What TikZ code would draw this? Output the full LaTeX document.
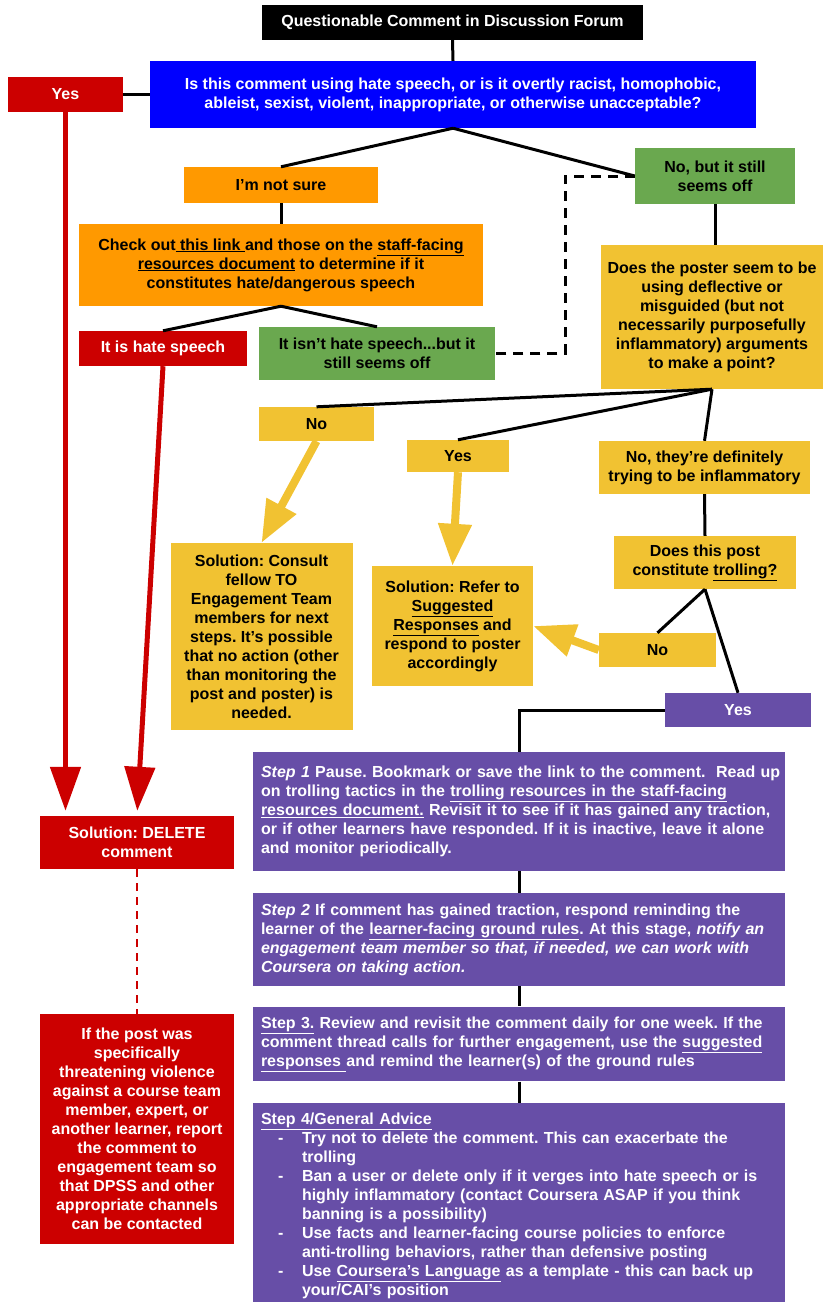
\documentclass[tikz,border=0pt]{standalone}
\usepackage{fontspec}
\setmainfont{Liberation Sans}
\usetikzlibrary{arrows.meta}
\definecolor{cblue}{HTML}{0000FF}
\definecolor{cred}{HTML}{CC0000}
\definecolor{corange}{HTML}{FF9900}
\definecolor{cgreen}{HTML}{6AA84F}
\definecolor{cyellow}{HTML}{F1C232}
\definecolor{cpurple}{HTML}{674EA7}
\newcommand{\stepbullet}{\makebox[41pt][l]{\hspace*{17pt}-}}
\newcommand{\stepindent}{\hspace*{41pt}}
\frenchspacing
\tikzset{
  box/.style={inner xsep=3pt, inner ysep=2pt, align=center, font=\bfseries\fontsize{16}{19}\selectfont},
  darkbox/.style={box, fill=#1, text=white},
  lightbox/.style={box, fill=#1, text=black},
  stepbox/.style={box, fill=cpurple, text=white, align=left, text width=516pt, inner xsep=8pt, inner ysep=10pt},
  conn/.style={line width=3pt},
  rarrow/.style={draw=cred, line width=5pt, shorten >=5pt, -{Triangle[width=30pt,length=44pt]}},
  yarrow/.style={draw=cyellow, line width=8pt, -{Triangle[width=32pt,length=42pt]}},
}
\begin{document}
\begin{tikzpicture}[x=1pt,y=-1pt]
\useasboundingbox (0,0) rectangle (823,1302);
\node[darkbox=black, minimum width=381, minimum height=35] (title) at (452.5,22.5) {Questionable Comment in Discussion Forum};
\node[darkbox=cblue, minimum width=606, minimum height=67] (q1) at (453,94.5) {Is this comment using hate speech, or is it overtly racist, homophobic,\\ableist, sexist, violent, inappropriate, or otherwise unacceptable?};
\node[darkbox=cred, minimum width=115, minimum height=35] (yes1) at (65.5,94.5) {Yes};
\node[lightbox=corange, minimum width=194, minimum height=36] (notsure) at (281,185) {I’m not sure};
\node[lightbox=cgreen, minimum width=160, minimum height=56] (nobut) at (715,176) {No, but it still\\seems off};
\node[lightbox=corange, minimum width=404, minimum height=82] (check) at (281,265) {Check out\underline{ this link }and those on the \underline{staff-facing}\\\underline{resources document} to determine if it\\constitutes hate/dangerous speech};
\node[darkbox=cred, minimum width=168, minimum height=35] (ishate) at (163,348.5) {It is hate speech};
\node[lightbox=cgreen, minimum width=236, minimum height=53] (isnt) at (377,353.5) {It isn’t hate speech...but it\\still seems off};
\node[lightbox=cyellow, minimum width=222, minimum height=144] (poster) at (712,317) {Does the poster seem to be\\using deflective or\\misguided (but not\\necessarily purposefully\\inflammatory) arguments\\to make a point?};
\node[lightbox=cyellow, minimum width=115, minimum height=34] (no1) at (316.5,424) {No};
\node[lightbox=cyellow, minimum width=102, minimum height=32] (yes2) at (458,456) {Yes};
\node[lightbox=cyellow, minimum width=211, minimum height=53] (notrying) at (704.5,467.5) {No, they’re definitely\\trying to be inflammatory};
\node[lightbox=cyellow, minimum width=182, minimum height=187] (consult) at (261.5,636.5) {Solution: Consult\\fellow TO\\Engagement Team\\members for next\\steps. It’s possible\\that no action (other\\than monitoring the\\post and poster) is\\needed.};
\node[lightbox=cyellow, minimum width=161, minimum height=120] (refer) at (452.5,626) {Solution: Refer to\\\underline{Suggested}\\\underline{Responses} and\\respond to poster\\accordingly};
\node[lightbox=cyellow, minimum width=182, minimum height=53] (trolling) at (705,562.5) {Does this post\\constitute \underline{trolling?}};
\node[lightbox=cyellow, minimum width=117, minimum height=34] (no3) at (657.5,650) {No};
\node[darkbox=cpurple, minimum width=146, minimum height=34] (yes3) at (738,710) {Yes};
\node[stepbox, minimum height=119] (step1) at (519,811.5) {\mbox{\textit{Step 1} Pause. Bookmark or save the link to the comment.\ \ Read up}\\on trolling tactics in the \underline{trolling resources in the staff-facing}\\\underline{resources document.} Revisit it to see if it has gained any traction,\\or if other learners have responded. If it is inactive, leave it alone\\and monitor periodically.};
\node[stepbox, minimum height=93] (step2) at (519,939.5) {\textit{Step 2} If comment has gained traction, respond reminding the\\learner of the \underline{learner-facing ground rules}. At this stage, \textit{notify an}\\\textit{engagement team member so that, if needed, we can work with}\\\textit{Coursera on taking action.}};
\node[stepbox, minimum height=66] (step3) at (519,1044) {\underline{Step 3.} Review and revisit the comment daily for one week. If the\\comment thread calls for further engagement, use the \underline{suggested}\\\underline{responses }and remind the learner(s) of the ground rules};
\node[stepbox, anchor=north] (step4) at (519,1103) {\underline{Step 4/General Advice}\\
\stepbullet Try not to delete the comment. This can exacerbate the\\
\stepindent trolling\\
\stepbullet Ban a user or delete only if it verges into hate speech or is\\
\stepindent highly inflammatory (contact Coursera ASAP if you think\\
\stepindent banning is a possibility)\\
\stepbullet Use facts and learner-facing course policies to enforce\\
\stepindent anti-trolling behaviors, rather than defensive posting\\
\stepbullet Use \underline{Coursera’s Language} as a template - this can back up\\
\stepindent your/CAI’s position};
\node[darkbox=cred, minimum width=194, minimum height=53] (delete) at (137,842.5) {Solution: DELETE\\comment};
\node[darkbox=cred, minimum width=194, minimum height=230] (report) at (137,1129) {If the post was\\specifically\\threatening violence\\against a course team\\member, expert, or\\another learner, report\\the comment to\\engagement team so\\that DPSS and other\\appropriate channels\\can be contacted};
\coordinate (dashcorner) at (565,176);
\draw[conn] (title.south) -- (q1.north);
\draw[conn] (yes1.east) -- (q1.west);
\draw[conn] (q1.south) -- (notsure.north);
\draw[conn] (q1.south) -- (nobut.west);
\draw[conn] (notsure.south) -- (check.north);
\draw[conn, dash pattern=on 10pt off 7pt] (nobut.west) -- (dashcorner) |- (isnt.east);
\draw[conn] (check.south) -- (ishate.north);
\draw[conn] (check.south) -- (isnt.north);
\draw[conn] (nobut.south) -- (nobut.south |- poster.north);
\draw[conn] (poster.south) -- (no1.north);
\draw[conn] (poster.south) -- (yes2.north);
\draw[conn] (poster.south) -- (notrying.north);
\draw[conn] (notrying.south) -- (trolling.north);
\draw[conn] (trolling.south) -- (no3.north);
\draw[conn] (trolling.south) -- (yes3.north);
\draw[conn] (yes3.west) -| (step1.north);
\draw[conn] (step1.south) -- (step2.north);
\draw[conn] (step2.south) -- (step3.north);
\draw[conn] (step3.south) -- (step4.north);
\draw[yarrow] (no1.south) -- (consult.north);
\draw[yarrow] (yes2.south) -- (refer.north);
\draw[yarrow] (no3.west) -- (refer.east);
\draw[rarrow] (yes1.south) -- (yes1.south |- delete.north);
\draw[rarrow] (ishate.south) -- (delete.north);
\draw[draw=cred, line width=2pt, dash pattern=on 8pt off 6pt] (delete.south) -- (report.north);
\end{tikzpicture}
\end{document}
